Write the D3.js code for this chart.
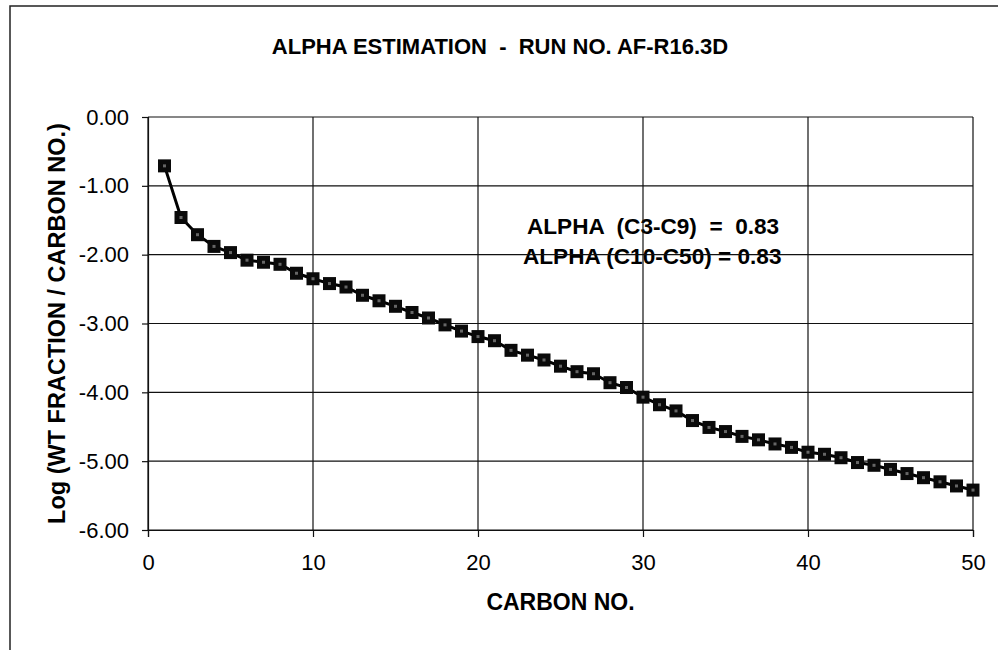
<!DOCTYPE html>
<html>
<head>
<meta charset="utf-8">
<script src="https://cdn.jsdelivr.net/npm/d3@7"></script>
<style>
  body { margin: 0; background: #fff; }
  svg { font-family: "Liberation Sans", Arial, sans-serif; }
  svg text { white-space: pre; }
</style>
</head>
<body>
<script>
const carbonNo = [1, 2, 3, 4, 5, 6, 7, 8, 9, 10,
  11, 12, 13, 14, 15, 16, 17, 18, 19, 20,
  21, 22, 23, 24, 25, 26, 27, 28, 29, 30,
  31, 32, 33, 34, 35, 36, 37, 38, 39, 40,
  41, 42, 43, 44, 45, 46, 47, 48, 49, 50];

const logFraction = [-0.71, -1.46, -1.71, -1.88, -1.97, -2.08, -2.11, -2.14, -2.27, -2.35,
  -2.42, -2.47, -2.59, -2.67, -2.75, -2.84, -2.92, -3.02, -3.11, -3.19,
  -3.25, -3.39, -3.46, -3.53, -3.62, -3.70, -3.73, -3.86, -3.93, -4.07,
  -4.18, -4.27, -4.41, -4.51, -4.57, -4.64, -4.69, -4.75, -4.80, -4.87,
  -4.90, -4.95, -5.02, -5.06, -5.12, -5.18, -5.24, -5.30, -5.36, -5.42];

const xTicks = [0, 10, 20, 30, 40, 50];
const yTicks = [0, -1, -2, -3, -4, -5, -6];

const title = 'ALPHA ESTIMATION  -  RUN NO. AF-R16.3D';
const xTitle = 'CARBON NO.';
const yTitle = 'Log (WT FRACTION / CARBON NO.)';
const notes = ['ALPHA  (C3-C9)  =  0.83', 'ALPHA (C10-C50) = 0.83'];

const points = carbonNo.map((c, i) => ({ x: c, y: logFraction[i] }));

const width = 998, height = 650;
const plot = { left: 148, right: 973, top: 117, bottom: 530 };

const svg = d3.select('body').append('svg')
  .attr('width', width)
  .attr('height', height);

// outer frame
svg.append('rect')
  .attr('x', 10).attr('y', 6)
  .attr('width', 1000).attr('height', 700)
  .attr('fill', 'none')
  .attr('stroke', '#222')
  .attr('stroke-width', 1.5);

const x = d3.scaleLinear().domain([0, 50]).range([plot.left, plot.right]);
const y = d3.scaleLinear().domain([-6, 0]).range([plot.bottom, plot.top]);

svg.append('text')
  .attr('x', 500).attr('y', 54)
  .attr('text-anchor', 'middle')
  .attr('font-weight', 'bold')
  .attr('font-size', 22)
  .text(title);

// annotation sits under the grid, as in the original
svg.append('g').selectAll('text')
  .data(notes)
  .join('text')
  .attr('x', (d, i) => i === 0 ? 527 : 523)
  .attr('y', (d, i) => 234 + i * 30)
  .attr('font-weight', 'bold')
  .attr('font-size', 22.6)
  .text(d => d);

// grid
const grid = svg.append('g').attr('stroke', '#111').attr('stroke-width', 1.2);
grid.selectAll('.h')
  .data(yTicks)
  .join('line')
  .attr('x1', plot.left).attr('x2', plot.right)
  .attr('y1', d => y(d)).attr('y2', d => y(d));
grid.selectAll('.v')
  .data(xTicks)
  .join('line')
  .attr('y1', plot.top).attr('y2', plot.bottom)
  .attr('x1', d => x(d)).attr('x2', d => x(d));

// axes
const yAxis = svg.append('g')
  .attr('transform', `translate(${plot.left},0)`)
  .call(d3.axisLeft(y).tickValues(yTicks).tickFormat(d => d.toFixed(2)).tickSize(6).tickPadding(13));
const xAxis = svg.append('g')
  .attr('transform', `translate(0,${plot.bottom})`)
  .call(d3.axisBottom(x).tickValues(xTicks).tickSize(7).tickPadding(17));

[yAxis, xAxis].forEach(a => {
  a.select('.domain').attr('stroke', '#111').attr('stroke-width', 1.2);
  a.selectAll('.tick line').attr('stroke', '#111').attr('stroke-width', 1.2);
  a.selectAll('.tick text')
    .attr('fill', '#000')
    .attr('font-size', 22)
    .attr('font-family', '"Liberation Sans", Arial, sans-serif');
});

svg.append('text')
  .attr('x', (plot.left + plot.right) / 2).attr('y', 610)
  .attr('text-anchor', 'middle')
  .attr('font-weight', 'bold')
  .attr('font-size', 23)
  .text(xTitle);

svg.append('text')
  .attr('transform', `translate(65,${(plot.top + plot.bottom) / 2}) rotate(-90)`)
  .attr('text-anchor', 'middle')
  .attr('font-weight', 'bold')
  .attr('font-size', 23.5)
  .text(yTitle);

// series
const line = d3.line().x(d => x(d.x)).y(d => y(d.y));
svg.append('path')
  .datum(points)
  .attr('d', line)
  .attr('fill', 'none')
  .attr('stroke', '#000')
  .attr('stroke-width', 3);

const s = 13;
const markers = svg.append('g').selectAll('g')
  .data(points)
  .join('g')
  .attr('transform', d => `translate(${x(d.x)},${y(d.y)})`);
markers.append('rect')
  .attr('x', -s / 2).attr('y', -s / 2)
  .attr('width', s).attr('height', s)
  .attr('fill', '#0a0a0a');
markers.append('rect')
  .attr('x', -1.5).attr('y', -1.5)
  .attr('width', 3).attr('height', 3)
  .attr('fill', '#666');
</script>
</body>
</html>
